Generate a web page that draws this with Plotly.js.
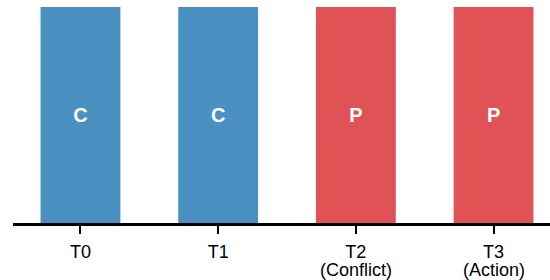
<!DOCTYPE html>
<html><head><meta charset="utf-8">
<script src="https://cdn.plot.ly/plotly-3.0.1.min.js"></script>
<style>html,body{margin:0;padding:0;background:#fff}#chart{width:550px;height:280px}</style>
</head><body><div id="chart"></div>
<script>
const categories = ["T0", "T1", "T2", "T3"];
const tickLabels = ["T0", "T1", "T2", "T3"];
const subLabels = ["", "", "(Conflict)", "(Action)"];
const values = [1, 1, 1, 1];
const barLabels = ["C", "C", "P", "P"];
const barColors = ["#4a91c2", "#4a91c2", "#df5256", "#df5256"];

const FONT = "Liberation Sans, Arial, sans-serif";

const annotations = categories
  .map((c, i) => ({c, t: subLabels[i]}))
  .filter(d => d.t)
  .map(d => ({
    x: d.c, xref: "x", y: 0, yref: "paper",
    text: d.t, showarrow: false,
    xanchor: "center", yanchor: "middle", yshift: -47,
    font: {family: FONT, size: 18, color: "#000000"}
  }));

Plotly.newPlot("chart", [{
  type: "bar",
  x: categories,
  y: values,
  text: barLabels,
  textposition: "inside",
  insidetextanchor: "middle",
  textfont: {family: FONT, size: 20, color: "#ffffff", weight: "bold"},
  marker: {color: barColors, line: {width: 0}},
  width: 0.58,
  hoverinfo: "none"
}], {
  width: 550, height: 280,
  margin: {l: 13, r: 0, t: 7, b: 57},
  paper_bgcolor: "#ffffff", plot_bgcolor: "#ffffff",
  showlegend: false,
  font: {family: FONT, size: 18, color: "#000000"},
  annotations: annotations,
  xaxis: {
    type: "category",
    range: [-0.49, 3.41],
    tickvals: categories,
    ticktext: tickLabels,
    showline: true, linecolor: "#000000", linewidth: 3,
    ticks: "outside", ticklen: 8, tickwidth: 2, tickcolor: "#000000",
    ticklabelstandoff: 2,
    showgrid: false, zeroline: false,
    tickfont: {size: 18}
  },
  yaxis: {
    range: [0, 1],
    visible: false,
    showgrid: false, zeroline: false
  }
}, {staticPlot: true, displayModeBar: false});
</script></body></html>
